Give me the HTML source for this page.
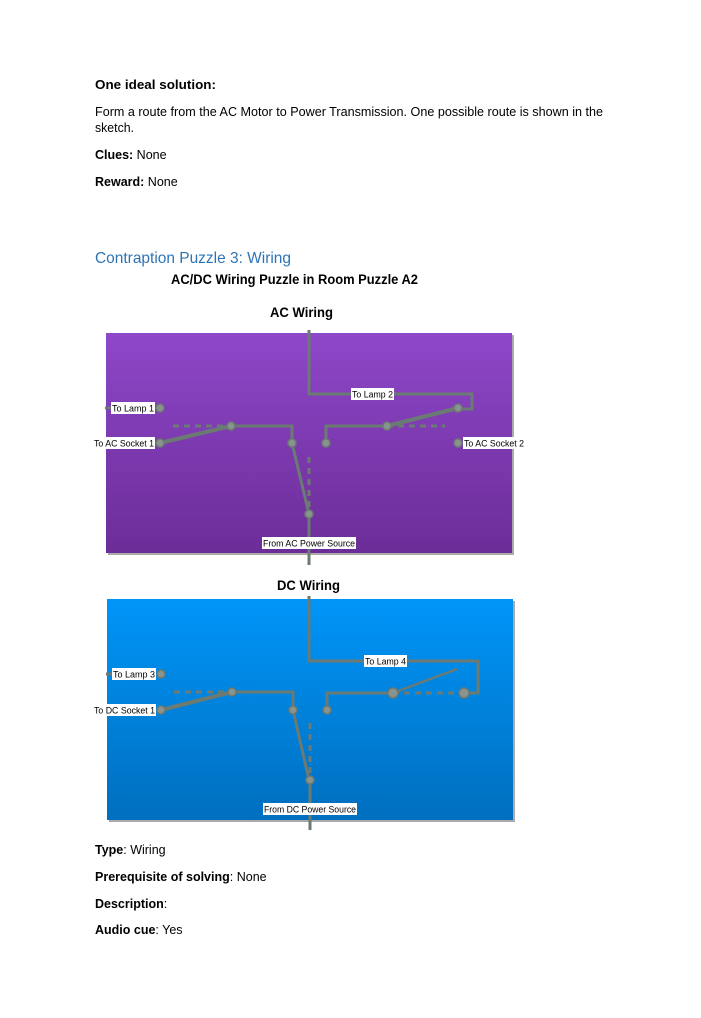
<!DOCTYPE html>
<html><head><meta charset="utf-8"><style>
html,body{margin:0;padding:0;background:#fff;}
svg{display:block;font-family:"Liberation Sans",sans-serif;}
</style></head><body>
<svg width="701" height="1018" viewBox="0 0 701 1018" xmlns="http://www.w3.org/2000/svg">
<defs>
<linearGradient id="gac" x1="0" y1="0" x2="0" y2="1"><stop offset="0" stop-color="#8e47c9"/><stop offset="1" stop-color="#6c2d98"/></linearGradient>
<linearGradient id="gdc" x1="0" y1="0" x2="0" y2="1"><stop offset="0" stop-color="#0095f8"/><stop offset="1" stop-color="#006fbf"/></linearGradient>
</defs>
<g font-size="12.5" fill="#000">
<text x="95" y="89" font-weight="bold" textLength="121" lengthAdjust="spacingAndGlyphs">One ideal solution:</text>
<text x="95" y="116" textLength="508" lengthAdjust="spacingAndGlyphs">Form a route from the AC Motor to Power Transmission. One possible route is shown in the</text>
<text x="95" y="132" textLength="39" lengthAdjust="spacingAndGlyphs">sketch.</text>
<text x="95" y="159"><tspan font-weight="bold">Clues:</tspan> None</text>
<text x="95" y="186"><tspan font-weight="bold">Reward:</tspan> None</text>
<text x="95" y="263" font-size="16" fill="#2e74b5" textLength="196" lengthAdjust="spacingAndGlyphs">Contraption Puzzle 3: Wiring</text>
<text x="171" y="284" font-size="13.5" font-weight="bold" textLength="247" lengthAdjust="spacingAndGlyphs">AC/DC Wiring Puzzle in Room Puzzle A2</text>
<text x="270" y="317" font-size="13.5" font-weight="bold" textLength="63" lengthAdjust="spacingAndGlyphs">AC Wiring</text>
<text x="277" y="590" font-size="13.5" font-weight="bold" textLength="63" lengthAdjust="spacingAndGlyphs">DC Wiring</text>
<text x="95" y="854"><tspan font-weight="bold">Type</tspan>: Wiring</text>
<text x="95" y="881"><tspan font-weight="bold">Prerequisite of solving</tspan>: None</text>
<text x="95" y="908"><tspan font-weight="bold">Description</tspan>:</text>
<text x="95" y="934"><tspan font-weight="bold">Audio cue</tspan>: Yes</text>
</g>

<!-- AC box -->
<rect x="108" y="335" width="406" height="220" fill="#aaa"/>
<rect x="106" y="333" width="406" height="220" fill="url(#gac)"/>
<g stroke="#6b7a72" fill="none" stroke-width="3">
<polyline points="309,330 309,394 472,394 472,409 460,409"/>
<line x1="458" y1="408" x2="387" y2="426" stroke-width="4"/>
<polyline points="387,426 326,426 326,443"/>
<line x1="387" y1="426" x2="445" y2="426" stroke-dasharray="6,5"/>
<line x1="173" y1="426" x2="231" y2="426" stroke-dasharray="6,5"/>
<polyline points="231,426 292,426 292,443"/>
<line x1="231" y1="426" x2="160" y2="443" stroke-width="4"/>
<line x1="292" y1="443" x2="309" y2="514"/>
<line x1="309" y1="457" x2="309" y2="514" stroke-dasharray="6,5"/>
<line x1="309" y1="514" x2="309" y2="565"/>
<line x1="105" y1="408" x2="112" y2="408"/>
</g>
<g fill="#8a948f" stroke="#6b7a72" stroke-width="1.5">
<circle cx="160" cy="408" r="4"/><circle cx="160" cy="443" r="4"/><circle cx="231" cy="426" r="4"/>
<circle cx="292" cy="443" r="4"/><circle cx="326" cy="443" r="4"/><circle cx="387" cy="426" r="4"/>
<circle cx="458" cy="408" r="4"/><circle cx="458" cy="443" r="4"/><circle cx="309" cy="514" r="4"/>
</g>
<g font-size="9" fill="#000">
<rect x="111" y="402" width="44" height="12" fill="#fff"/><text x="112" y="411.5" textLength="42" lengthAdjust="spacingAndGlyphs">To Lamp 1</text>
<rect x="94" y="437" width="61" height="12" fill="#fff"/><text x="94" y="446.5" textLength="60" lengthAdjust="spacingAndGlyphs">To AC Socket 1</text>
<rect x="351" y="388" width="43" height="12" fill="#fff"/><text x="352" y="397.5" textLength="41" lengthAdjust="spacingAndGlyphs">To Lamp 2</text>
<rect x="463" y="437" width="61" height="12" fill="#fff"/><text x="464" y="446.5" textLength="60" lengthAdjust="spacingAndGlyphs">To AC Socket 2</text>
<rect x="262" y="537" width="94" height="12" fill="#fff"/><text x="263" y="546.5" textLength="92" lengthAdjust="spacingAndGlyphs">From AC Power Source</text>
</g>

<!-- DC box -->
<rect x="109" y="601" width="406" height="221" fill="#aaa"/>
<rect x="107" y="599" width="406" height="221" fill="url(#gdc)"/>
<g stroke="#6b7a72" fill="none" stroke-width="3">
<polyline points="309,596 309,661 478,661 478,693 466,693"/>
<line x1="393" y1="693" x2="457" y2="669" stroke-width="2.5"/>
<line x1="393" y1="693" x2="464" y2="693" stroke-dasharray="6,5"/>
<polyline points="393,693 327,693 327,710"/>
<line x1="174" y1="692" x2="232" y2="692" stroke-dasharray="6,5"/>
<polyline points="232,692 293,692 293,710"/>
<line x1="232" y1="692" x2="161" y2="710" stroke-width="4"/>
<line x1="293" y1="710" x2="309" y2="780"/>
<line x1="310" y1="723" x2="310" y2="780" stroke-dasharray="6,5"/>
<line x1="310" y1="780" x2="310" y2="830"/>
<line x1="106" y1="674" x2="113" y2="674"/>
</g>
<g fill="#8a948f" stroke="#6b7a72" stroke-width="1.5">
<circle cx="161" cy="674" r="4"/><circle cx="161" cy="710" r="4"/><circle cx="232" cy="692" r="4"/>
<circle cx="293" cy="710" r="4"/><circle cx="327" cy="710" r="4"/><circle cx="393" cy="693" r="5"/>
<circle cx="464" cy="693" r="5"/><circle cx="310" cy="780" r="4"/>
</g>
<g font-size="9" fill="#000">
<rect x="112" y="668" width="44" height="12" fill="#fff"/><text x="113" y="677.5" textLength="42" lengthAdjust="spacingAndGlyphs">To Lamp 3</text>
<rect x="94" y="704" width="62" height="12" fill="#fff"/><text x="94" y="713.5" textLength="61" lengthAdjust="spacingAndGlyphs">To DC Socket 1</text>
<rect x="364" y="655" width="43" height="12" fill="#fff"/><text x="365" y="664.5" textLength="41" lengthAdjust="spacingAndGlyphs">To Lamp 4</text>
<rect x="263" y="803" width="94" height="12" fill="#fff"/><text x="264" y="812.5" textLength="92" lengthAdjust="spacingAndGlyphs">From DC Power Source</text>
</g>
</svg>
</body></html>
